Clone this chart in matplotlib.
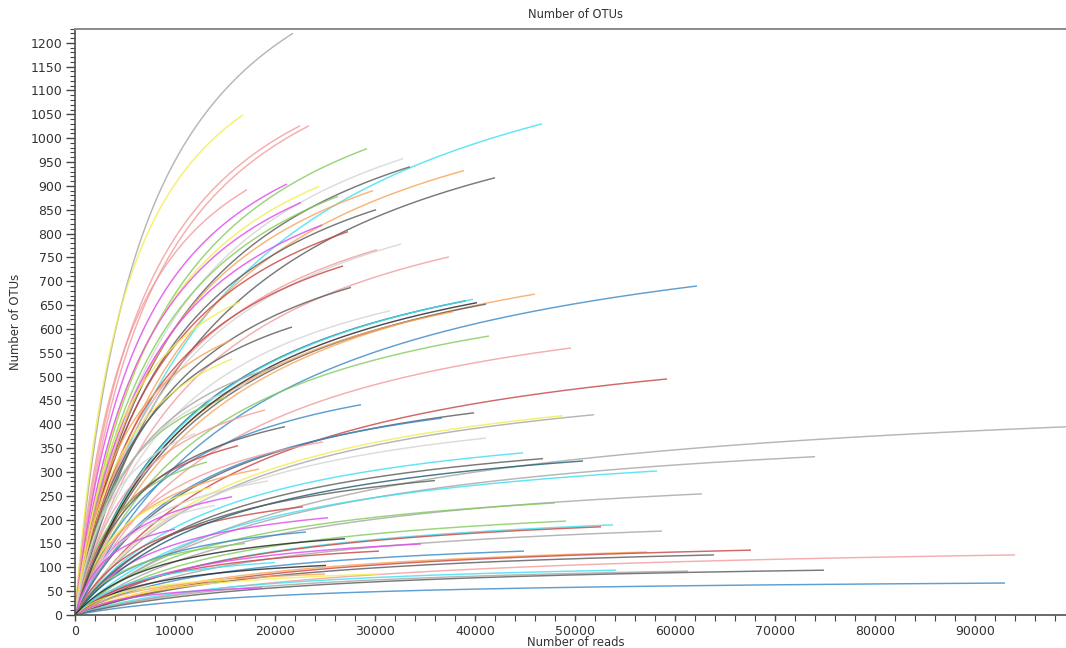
import numpy as np
import matplotlib
matplotlib.use("Agg")
import matplotlib.pyplot as plt
from matplotlib.ticker import MultipleLocator

# ---- data ----
# final sequencing depth of each sample (reads)
reads_max = [21800, 16800, 22500, 23400, 29200, 46700, 32800, 33500, 38900, 42000,
             17200, 21200, 24400, 26300, 22600, 29800, 30100, 24700, 27300, 32600,
             30200, 26800, 37400, 27600, 31500, 21700, 39100, 39800, 46000, 41100,
             37800, 62200, 41400, 49600, 59200, 28600, 39900, 36700, 48800, 51900,
             41100, 24800, 99500, 16300, 44800, 46800, 74000, 58200, 62700, 48000,
             18400, 19300, 13700, 15700, 22800, 25300, 49100, 53800, 52600, 58700,
             23100, 34600, 30400, 44900, 57200, 67600, 63900, 94000, 54100, 61300,
             74900, 25000, 30300, 25100, 18700, 93000, 15700, 15700, 15200, 16500,
             13200, 50800, 17200, 40200, 20000, 19000, 21000, 12000, 14000, 17000,
             20000, 16000, 10000, 36000, 27000]
# observed OTUs at the final depth
otus_max = [1220, 1049, 1026, 1026, 978, 1030, 957, 940, 932, 917,
            892, 904, 899, 878, 865, 890, 850, 818, 804, 778,
            766, 732, 751, 687, 638, 604, 659, 662, 673, 652,
            636, 690, 585, 560, 495, 441, 424, 413, 418, 420,
            371, 363, 395, 355, 340, 328, 332, 302, 254, 235,
            306, 281, 268, 248, 227, 204, 197, 189, 185, 176,
            174, 149, 134, 134, 132, 136, 126, 126, 94, 92,
            94, 86, 86, 104, 57, 67, 577, 537, 457, 657,
            321, 323, 483, 655, 520, 430, 395, 380, 230, 150,
            110, 75, 180, 282, 160]
# half-saturation depth of each rarefaction curve (reads)
half_sat = [6800, 5200, 7000, 7600, 9000, 15500, 10000, 10500, 12500, 14000,
            5500, 6800, 7800, 8400, 7200, 9500, 9600, 8000, 8800, 10500,
            9800, 8600, 12000, 9000, 10200, 7000, 12500, 12800, 15000, 13500,
            12500, 19000, 13500, 16000, 19000, 9500, 13000, 12000, 16000, 17000,
            13500, 8200, 27000, 5400, 14500, 15000, 23000, 18500, 20000, 15500,
            6000, 6300, 4500, 5200, 7500, 8300, 16000, 17500, 17000, 19000,
            7600, 11500, 10000, 14500, 18500, 21000, 20500, 28000, 17500, 19500,
            23000, 8000, 10000, 8000, 6000, 20000, 5200, 5200, 5000, 5400,
            4400, 16000, 5600, 13000, 6500, 6200, 7000, 4000, 4600, 5600,
            6600, 5300, 3300, 12000, 9000]
curve_color = ["gray", "yellow", "pink", "pink", "green", "cyan", "lightgray", "darkgray", "orange", "darkgray",
               "pink", "magenta", "yellow", "green", "magenta", "orange", "darkgray", "magenta", "red", "lightgray",
               "pink", "red", "pink", "darkgray", "lightgray", "darkgray", "teal", "cyan", "orange", "darkgray",
               "orange", "blue", "green", "pink", "red", "blue", "darkgray", "blue", "yellow", "gray",
               "lightgray", "pink", "gray", "red", "cyan", "darkgray", "gray", "cyan", "gray", "green",
               "orange", "lightgray", "yellow", "magenta", "red", "magenta", "green", "cyan", "red", "gray",
               "blue", "magenta", "red", "blue", "orange", "red", "darkgray", "pink", "cyan", "gray",
               "darkgray", "orange", "yellow", "black", "magenta", "blue", "orange", "yellow", "green", "yellow",
               "green", "teal", "lightgray", "black", "gray", "pink", "darkgray", "lightgray", "lightgray", "green",
               "cyan", "yellow", "magenta", "darkgray", "black"]

palette = {"gray": "#a6a6a6", "yellow": "#f2ee50", "pink": "#f39c9c", "green": "#84cc5c",
           "magenta": "#e048ee", "lightgray": "#d4d4d4", "darkgray": "#5c5c5c", "cyan": "#3ee0f2",
           "orange": "#f8a45a", "blue": "#3a8ac8", "red": "#c84646", "black": "#262626",
           "teal": "#1e5f70"}

x_ticks_major = 10000
y_ticks_major = 50

# ---- figure ----
W, H = 1066, 648
fig = plt.figure(figsize=(W / 100, H / 100), dpi=100)
left_px, right_px, top_px, bottom_px = 75, 1066, 28.5, 615
ax = fig.add_axes([left_px / W, 1 - bottom_px / H, (right_px - left_px) / W, (bottom_px - top_px) / H])

for xe, ye, k, c in zip(reads_max, otus_max, half_sat, curve_color):
    x = np.linspace(0, xe, 400)
    a = ye * (k + xe) / xe
    y = a * x / (k + x)
    ax.plot(x, y, color=palette[c], lw=1.05, alpha=0.82, solid_capstyle="butt")

ax.set_xlim(0, 99100)
ax.set_ylim(0, 1230)

ax.xaxis.set_major_locator(MultipleLocator(x_ticks_major))
ax.xaxis.set_minor_locator(MultipleLocator(2000))
ax.yaxis.set_major_locator(MultipleLocator(y_ticks_major))
ax.yaxis.set_minor_locator(MultipleLocator(10))

tick_col = "#444444"
ax.tick_params(axis="y", which="major", length=6.5, width=1.0, color=tick_col,
               labelsize=9, labelcolor="#333333", pad=2.5, direction="out")
ax.tick_params(axis="y", which="minor", length=3.5, width=0.8, color=tick_col, direction="out")
ax.tick_params(axis="x", which="major", length=4.5, width=1.0, color=tick_col,
               labelsize=9, labelcolor="#333333", pad=2.5, direction="out")
ax.tick_params(axis="x", which="minor", length=4.5, width=0.8, color=tick_col, direction="out")

for s in ["left", "bottom"]:
    ax.spines[s].set_color("#505050")
    ax.spines[s].set_linewidth(1.2)
ax.spines["top"].set_color("#8a8a8a")
ax.spines["top"].set_linewidth(1.4)
ax.spines["right"].set_visible(False)

fig.text(576 / W, 1 - 14 / H, "Number of OTUs", ha="center", va="center",
         fontsize=8.3, color="#333333")
fig.text(576 / W, 1 - 642.5 / H, "Number of reads", ha="center", va="center",
         fontsize=8.4, color="#333333")
fig.text(16 / W, 1 - 322 / H, "Number of OTUs", ha="center", va="center",
         rotation=90, fontsize=8.4, color="#333333")

fig.savefig("out.png", dpi=100)
